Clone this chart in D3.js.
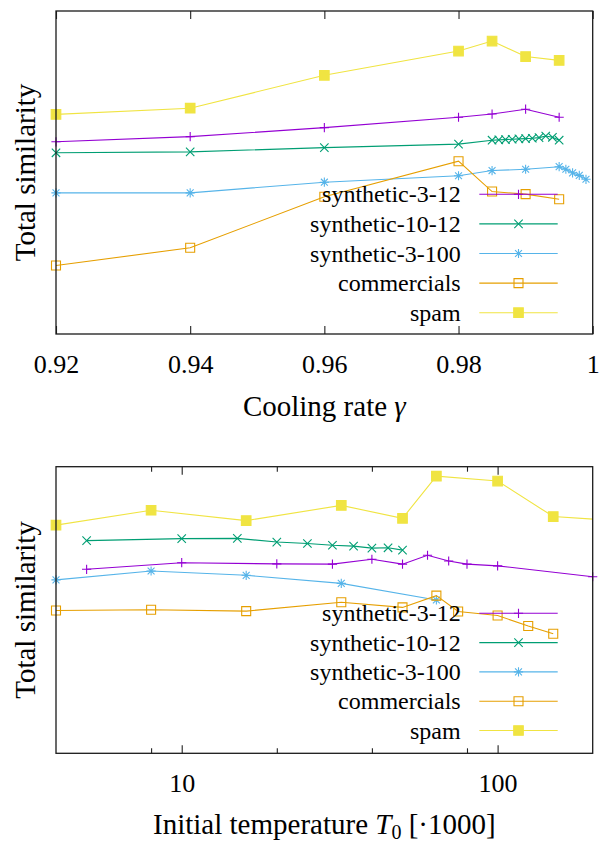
<!DOCTYPE html>
<html>
<head>
<meta charset="utf-8">
<script src="https://cdn.jsdelivr.net/npm/d3@7"></script>
<style>
  body { margin: 0; background: #fff; }
  svg { display: block; }
  text { font-family: "Liberation Serif", "Times New Roman", serif; fill: #000; }
</style>
</head>
<body>
<svg id="chart" width="599" height="846"></svg>
<script>
// ---- series definitions ----
const seriesNames   = ["synthetic-3-12", "synthetic-10-12", "synthetic-3-100", "commercials", "spam"];
const seriesColors  = ["#9400d3", "#009e73", "#56b4e9", "#e69f00", "#f0e442"];
const seriesMarkers = ["plus", "cross", "star", "square", "filledSquare"];

// ---- cooling-rate sweep (gamma) ----
const gammaMain  = [0.92, 0.94, 0.96, 0.98, 0.985, 0.99, 0.995];
const gammaSyn1012 = [0.92, 0.94, 0.96, 0.98, 0.985, 0.986, 0.987, 0.988, 0.989, 0.99, 0.991, 0.992, 0.993, 0.994, 0.995];
const gammaSyn3100 = [0.92, 0.94, 0.96, 0.98, 0.985, 0.99, 0.995, 0.996, 0.997, 0.998, 0.999];

const coolSyn312   = [59.5, 61.1, 63.9, 67.1, 68.1, 69.6, 67.1];
const coolSyn1012  = [56.1, 56.4, 57.7, 58.8, 60.0, 60.1, 60.2, 60.3, 60.4, 60.5, 60.6, 60.8, 61.3, 60.9, 60.0];
const coolSyn3100  = [43.7, 43.7, 47.0, 49.0, 50.6, 51.0, 51.8, 51.0, 49.9, 49.1, 47.9];
const coolCommerc  = [21.2, 26.7, 42.5, 53.5, 44.1, 43.3, 41.7];
const coolSpam     = [68.0, 69.9, 80.1, 87.6, 90.7, 85.9, 84.7];

const coolTicks = [0.92, 0.94, 0.96, 0.98, 1];
const coolTickLabels = ["0.92", "0.94", "0.96", "0.98", "1"];

// ---- initial-temperature sweep (T0, x1000) ----
const tempSyn312   = [5, 10, 20, 30, 40, 50, 60, 70, 80, 100, 200];
const tempSyn1012  = [5, 10, 15, 20, 25, 30, 35, 40, 45, 50];
const tempSyn3100  = [4, 8, 16, 32, 64];
const tempCommerc  = [4, 8, 16, 32, 50, 64, 75, 100, 125, 150];
const tempSpam     = [4, 8, 16, 32, 50, 64, 100, 150, 250];

const initSyn312   = [64.2, 66.5, 66.1, 66.0, 67.7, 66.0, 69.1, 67.1, 66.0, 65.4, 61.6];
const initSyn1012  = [74.2, 74.9, 75.0, 73.7, 73.2, 72.6, 72.3, 71.6, 71.7, 70.9];
const initSyn3100  = [60.5, 63.6, 62.1, 59.3, 53.5];
const initCommerc  = [49.8, 50.1, 49.6, 52.7, 50.9, 55.0, 49.5, 48.1, 44.4, 41.7];
const initSpam     = [79.6, 84.8, 81.2, 86.5, 82.0, 96.7, 95.0, 82.6, 81.0];

const tempMajorTicks = [10, 100];
const tempMajorLabels = ["10", "100"];
const tempMinorTicks = [8, 20, 40, 80];

// ---- layout ----
const svg = d3.select("#chart");
const plotLeft = 56, plotRight = 592.7;
const serif = "'Liberation Serif', 'Times New Roman', serif";

function markerPath(type, s) {
  switch (type) {
    case "plus":  return `M${-s},0H${s}M0,${-s}V${s}`;
    case "cross": return `M${-s},${-s}L${s},${s}M${-s},${s}L${s},${-s}`;
    case "star": {
      const c = s * 0.75;
      return `M${-s},0H${s}M0,${-s}V${s}M${-c},${-c}L${c},${c}M${-c},${c}L${c},${-c}`;
    }
    default: return `M${-s},${-s}H${s}V${s}H${-s}Z`;
  }
}
const markerSize = { plus: 4.6, cross: 4.2, star: 4.6, square: 4.5, filledSquare: 4.8 };

function drawMarker(g, type, color, x, y) {
  const p = g.append("path")
    .attr("transform", `translate(${x},${y})`)
    .attr("d", markerPath(type, markerSize[type]))
    .attr("stroke", color)
    .attr("stroke-width", 1.1);
  if (type === "filledSquare") p.attr("fill", color).attr("stroke", color);
  else p.attr("fill", "none");
}

function drawPanel(opts) {
  const { top, bottom, x, series, majorTicks, majorLabels, minorTicks, clipId,
          yLabelX, xLabelY, xLabel, legendTop, legendGap } = opts;
  const y = d3.scaleLinear().domain([0, 100]).range([bottom, top]);
  const g = svg.append("g");

  // clip for the connecting lines
  svg.append("defs").append("clipPath").attr("id", clipId)
    .append("rect").attr("x", plotLeft).attr("y", top)
    .attr("width", plotRight - plotLeft).attr("height", bottom - top);

  // x axis ticks, mirrored on the top edge, pointing inward
  const axB = d3.axisBottom(x).tickValues(majorTicks).tickSize(-8)
    .tickFormat((d, i) => majorLabels[i]);
  const gb = g.append("g").attr("transform", `translate(0,${bottom})`).call(axB);
  gb.attr("font-family", null);
  gb.select(".domain").remove();
  gb.selectAll(".tick line").attr("stroke", "#222").attr("stroke-width", 1.1);
  gb.selectAll(".tick text").attr("y", 39).attr("dy", 0)
    .style("font-family", serif).style("font-size", "26px").attr("fill", "#000");

  const axT = d3.axisTop(x).tickValues(majorTicks).tickSize(-8).tickFormat("");
  const gt = g.append("g").attr("transform", `translate(0,${top})`).call(axT);
  gt.select(".domain").remove();
  gt.selectAll(".tick line").attr("stroke", "#222").attr("stroke-width", 1.1);

  if (minorTicks) {
    const mB = d3.axisBottom(x).tickValues(minorTicks).tickSize(-5).tickFormat("");
    const mb = g.append("g").attr("transform", `translate(0,${bottom})`).call(mB);
    mb.select(".domain").remove();
    mb.selectAll(".tick line").attr("stroke", "#222").attr("stroke-width", 1.1);
    const mT = d3.axisTop(x).tickValues(minorTicks).tickSize(-5).tickFormat("");
    const mt = g.append("g").attr("transform", `translate(0,${top})`).call(mT);
    mt.select(".domain").remove();
    mt.selectAll(".tick line").attr("stroke", "#222").attr("stroke-width", 1.1);
  }

  const [xmin, xmax] = x.domain();
  const line = d3.line().x(d => x(d[0])).y(d => y(d[1]));

  series.forEach((s, i) => {
    const pts = s.xs.map((v, k) => [v, s.ys[k]]);
    g.append("path").datum(pts)
      .attr("d", line)
      .attr("fill", "none")
      .attr("stroke", seriesColors[i])
      .attr("stroke-width", 1.1)
      .attr("clip-path", `url(#${clipId})`);
    const mg = g.append("g");
    pts.filter(p => p[0] >= xmin && p[0] <= xmax)
      .forEach(p => drawMarker(mg, seriesMarkers[i], seriesColors[i], x(p[0]), y(p[1])));
  });

  // frame
  g.append("rect").attr("x", plotLeft).attr("y", top)
    .attr("width", plotRight - plotLeft).attr("height", bottom - top)
    .attr("fill", "none").attr("stroke", "#1a1a1a").attr("stroke-width", 1.3);

  // legend
  const lg = g.append("g");
  seriesNames.forEach((name, i) => {
    const ly = legendTop + i * legendGap;
    lg.append("text").attr("x", 460.7).attr("y", ly + 8)
      .attr("text-anchor", "end").style("font-size", "24px").text(name);
    lg.append("line").attr("x1", 479.3).attr("x2", 557.7).attr("y1", ly).attr("y2", ly)
      .attr("stroke", seriesColors[i]).attr("stroke-width", 1.1);
    drawMarker(lg, seriesMarkers[i], seriesColors[i], 518.5, ly);
  });

  // axis titles
  g.append("text").attr("transform", `translate(${yLabelX},${(top + bottom) / 2}) rotate(-90)`)
    .attr("text-anchor", "middle").style("font-size", "29px").text("Total similarity");
  const xt = g.append("text").attr("x", (plotLeft + plotRight) / 2).attr("y", xLabelY)
    .attr("text-anchor", "middle").style("font-size", "29px");
  xLabel(xt);
}

// Panel 1: cooling rate
drawPanel({
  top: 11, bottom: 334,
  x: d3.scaleLinear().domain([0.92, 1]).range([plotLeft, plotRight]),
  series: [
    { xs: gammaMain,    ys: coolSyn312 },
    { xs: gammaSyn1012, ys: coolSyn1012 },
    { xs: gammaSyn3100, ys: coolSyn3100 },
    { xs: gammaMain,    ys: coolCommerc },
    { xs: gammaMain,    ys: coolSpam }
  ],
  majorTicks: coolTicks, majorLabels: coolTickLabels, minorTicks: null,
  clipId: "clipCool", yLabelX: 35, xLabelY: 416,
  legendTop: 194.3, legendGap: 29.6,
  xLabel: t => {
    t.append("tspan").text("Cooling rate ");
    t.append("tspan").style("font-style", "italic").text("γ");
  }
});

// Panel 2: initial temperature (log scale)
drawPanel({
  top: 466.7, bottom: 753.3,
  x: d3.scaleLog().domain([4, 200]).range([plotLeft, plotRight]),
  series: [
    { xs: tempSyn312,  ys: initSyn312 },
    { xs: tempSyn1012, ys: initSyn1012 },
    { xs: tempSyn3100, ys: initSyn3100 },
    { xs: tempCommerc, ys: initCommerc },
    { xs: tempSpam,    ys: initSpam }
  ],
  majorTicks: tempMajorTicks, majorLabels: tempMajorLabels, minorTicks: tempMinorTicks,
  clipId: "clipTemp", yLabelX: 35, xLabelY: 834,
  legendTop: 613.3, legendGap: 29.3,
  xLabel: t => {
    t.append("tspan").text("Initial temperature ");
    t.append("tspan").style("font-style", "italic").text("T");
    t.append("tspan").attr("dy", 5).style("font-size", "20px").text("0");
    t.append("tspan").attr("dy", -5).text(" [·1000]");
  }
});
</script>
</body>
</html>
